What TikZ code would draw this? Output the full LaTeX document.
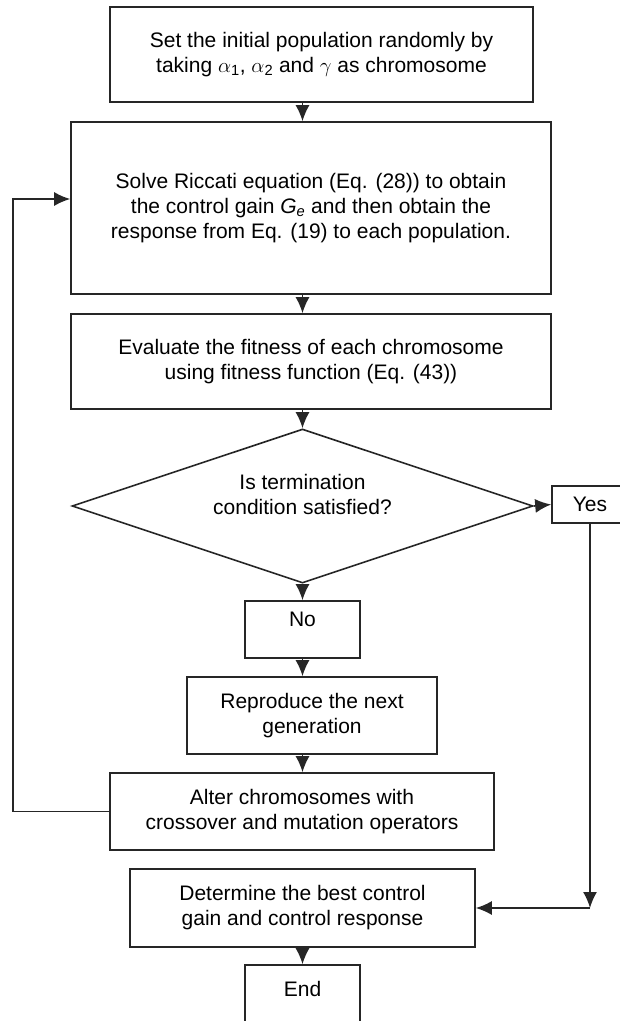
\documentclass[tikz,border=0pt]{standalone}
\usepackage{fontspec}
\setmainfont{Liberation Sans}
\usetikzlibrary{arrows.meta,shapes.geometric}

\begin{document}
\begin{tikzpicture}[x=1pt, y=-1pt, line width=1.6pt,
  box/.style={draw=black!85, align=center, inner sep=0pt, font=\fontsize{21}{25}\selectfont},
  arr/.style={-{Latex[length=16pt,width=14pt]}, draw=black!85}]

\useasboundingbox (0,0) rectangle (620,1021);

\node[box, minimum width=423pt, minimum height=95pt] (init) at (321.5,54.5)
  {Set the initial population randomly by\\ taking $\alpha$\textsubscript{1}, $\alpha$\textsubscript{2} and $\gamma$ as chromosome};
\node[box, minimum width=480pt, minimum height=172pt] (ric) at (311,208)
  {Solve Riccati equation (Eq. (28)) to obtain\\ the control gain \textit{G}\textsubscript{\textit{e}} and then obtain the\\ response from Eq. (19) to each population.};
\node[box, minimum width=480pt, minimum height=95pt] (fit) at (311,361.5)
  {Evaluate the fitness of each chromosome\\ using fitness function (Eq. (43))};
\node[box, diamond, aspect=3, text depth=24pt, minimum width=461pt, minimum height=154pt] (cond) at (302.5,506)
  {Is termination\\ condition satisfied?};
\node[box, minimum width=76pt, minimum height=37pt] (yes) at (590,504.5) {Yes};
\node[box, minimum width=115pt, text height=25pt, text depth=32pt] (no) at (302.5,629.5) {No};
\node[box, minimum width=250pt, minimum height=77pt] (rep) at (312,715.5)
  {Reproduce the next\\ generation};
\node[box, minimum width=384pt, minimum height=77pt] (alt) at (302,811.5)
  {Alter chromosomes with\\ crossover and mutation operators};
\node[box, minimum width=345pt, minimum height=78pt] (best) at (302.5,908)
  {Determine the best control\\ gain and control response};
\node[box, minimum width=115pt, text height=31.5pt, text depth=25.5pt] (fin) at (302.5,993.5) {End};

\coordinate (k) at (590,908);
\coordinate (fb) at (13,811.5);

\draw[arr] (init.south -| cond.north) -- (ric.north -| cond.north);
\draw[arr] (ric.south -| cond.north) -- (fit.north -| cond.north);
\draw[arr] (fit.south -| cond.north) -- (cond.north);
\draw[arr] (cond.south) -- (no.north);
\draw[arr] (no.south) -- (rep.north -| no.south);
\draw[arr] (rep.south -| no.south) -- (alt.north -| no.south);
\draw[arr] (cond.east) -- (yes.west);
\draw[arr] (yes.south) -- (k);
\draw[arr] (k) -- (best.east);
\draw[arr] (best.south -| fin.north) -- (fin.north);
\draw[arr] (alt.west) -- (fb) |- ([yshift=9pt]ric.west);

\end{tikzpicture}
\end{document}
